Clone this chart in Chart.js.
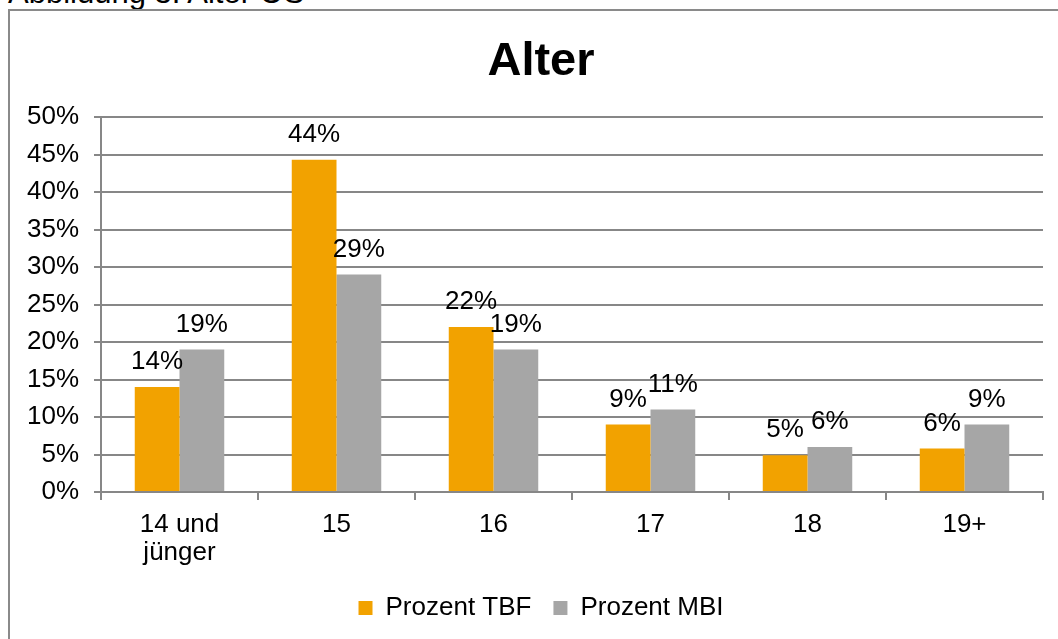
<!DOCTYPE html>
<html>
<head>
<meta charset="utf-8">
<script src="https://cdn.jsdelivr.net/npm/chart.js@4/dist/chart.umd.min.js"></script>
<style>
  body { margin: 0; background: #fff; overflow: hidden; width: 1058px; height: 639px; position: relative; }
  #caption { position: absolute; left: 8px; top: -23px; font: 31px "Liberation Sans", Arial, sans-serif; line-height: 31px; color: #000; white-space: nowrap; }
  #frame { position: absolute; left: 8px; top: 9px; width: 1100px; height: 700px; border-left: 2px solid #8a8a8a; border-top: 2px solid #8a8a8a; }
  #wrap { position: absolute; left: 10px; top: 11px; width: 1064px; height: 640px; }
</style>
</head>
<body>
<div id="caption">Abbildung 3: Alter OS</div>
<div id="frame"></div>
<div id="wrap"><canvas id="alterChart"></canvas></div>
<script>
const categories = [["14 und", "jünger"], "15", "16", "17", "18", "19+"];
const prozentTBF = [14, 44.3, 22, 9, 4.9, 5.8];
const prozentMBI = [19, 29, 19, 11, 6, 9];
const yTicks = [0, 5, 10, 15, 20, 25, 30, 35, 40, 45, 50];

const font = "'Liberation Sans', Arial, sans-serif";
const gridColor = '#878787';

// value labels above each bar, and the y tick labels (drawn here so they may sit left of the scale box)
const textLabels = {
    id: 'textLabels',
    afterDraw(chart) {
        const ctx = chart.ctx;
        ctx.save();
        ctx.font = '26px ' + font;
        ctx.fillStyle = '#000';
        ctx.textBaseline = 'middle';
        ctx.textAlign = 'center';
        chart.data.datasets.forEach((ds, i) => {
            chart.getDatasetMeta(i).data.forEach((bar, j) => {
                ctx.fillText(Math.round(ds.data[j]) + '%', bar.x, bar.y - 25);
            });
        });
        const y = chart.scales.y;
        ctx.textAlign = 'right';
        yTicks.forEach(v => {
            ctx.fillText(v + '%', y.right - 22, y.getPixelForValue(v));
        });
        ctx.restore();
    }
};

const ctx = document.getElementById('alterChart').getContext('2d');

const chart = new Chart(ctx, {
    type: 'bar',
    data: {
        labels: categories,
        datasets: [
            {
                label: 'Prozent TBF',
                data: prozentTBF,
                backgroundColor: '#f2a200',
                barPercentage: 1,
                categoryPercentage: 0.57
            },
            {
                label: 'Prozent MBI',
                data: prozentMBI,
                backgroundColor: '#a6a6a6',
                barPercentage: 1,
                categoryPercentage: 0.57
            }
        ]
    },
    options: {
        responsive: true,
        maintainAspectRatio: false,
        animation: false,
        layout: { padding: { left: 29, right: 31, top: 4, bottom: 20 } },
        plugins: {
            title: {
                display: true,
                text: 'Alter',
                color: '#000',
                font: { family: font, size: 47, weight: 'bold', lineHeight: 1.2 },
                padding: { top: 18.8, bottom: 26.8 }
            },
            legend: {
                position: 'bottom',
                labels: {
                    color: '#000',
                    font: { family: font, size: 26 },
                    boxWidth: 14,
                    boxHeight: 14,
                    padding: 22
                }
            },
            tooltip: { enabled: false }
        },
        scales: {
            x: {
                grid: {
                    offset: true,
                    drawOnChartArea: false,
                    drawTicks: true,
                    tickLength: 8,
                    color: gridColor,
                    lineWidth: 2
                },
                border: { color: gridColor, width: 2 },
                ticks: {
                    color: '#000',
                    font: { family: font, size: 26, lineHeight: 1.08 },
                    padding: 11,
                    maxRotation: 0
                },
                afterFit(scale) { scale.height = 81; }
            },
            y: {
                min: 0,
                max: 50,
                afterBuildTicks(scale) { scale.ticks = yTicks.map(v => ({ value: v })); },
                grid: {
                    color: gridColor,
                    lineWidth: 2,
                    tickLength: 7
                },
                border: { color: gridColor, width: 2 },
                ticks: { display: false },
                afterFit(scale) { scale.width = 62; }
            }
        }
    },
    plugins: [textLabels]
});
</script>
</body>
</html>
